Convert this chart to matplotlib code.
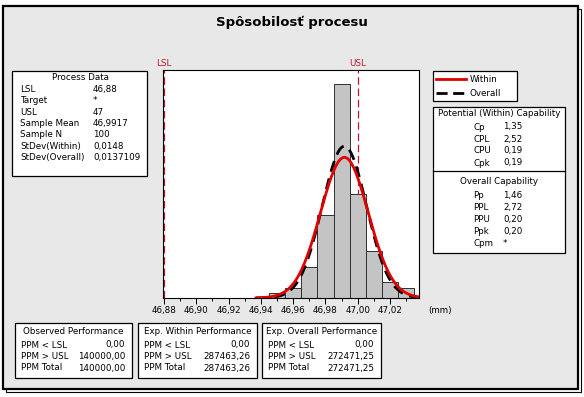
import matplotlib
matplotlib.use("Agg")
import matplotlib.pyplot as plt
from matplotlib.patches import Rectangle
from matplotlib.lines import Line2D
import numpy as np

W, H = 584, 397

# data
LSL = 46.88
USL = 47.0
MEAN = 46.9917
SD_WITHIN = 0.0148
SD_OVERALL = 0.0137109
N = 100
BIN_START = 46.945
BIN_WIDTH = 0.01
counts = [1, 2, 6, 16, 41, 20, 9, 3, 2]

process_labels = ["LSL", "Target", "USL", "Sample Mean", "Sample N", "StDev(Within)", "StDev(Overall)"]
process_values = ["46,88", "*", "47", "46,9917", "100", "0,0148", "0,0137109"]

within_labels = ["Cp", "CPL", "CPU", "Cpk"]
within_values = ["1,35", "2,52", "0,19", "0,19"]
overall_labels = ["Pp", "PPL", "PPU", "Ppk", "Cpm"]
overall_values = ["1,46", "2,72", "0,20", "0,20", "*"]

perf_titles = ["Observed Performance", "Exp. Within Performance", "Exp. Overall Performance"]
perf_labels = ["PPM < LSL", "PPM > USL", "PPM Total"]
perf_values = [["0,00", "140000,00", "140000,00"],
               ["0,00", "287463,26", "287463,26"],
               ["0,00", "272471,25", "272471,25"]]

xticks = [46.88, 46.90, 46.92, 46.94, 46.96, 46.98, 47.00, 47.02]

FS = 6.3
RED = "#E00000"
SPEC = "#C8102E"


def fx(x):
    return x / W


def fy(y):
    return 1 - y / H


def box(fig, x0, y0, x1, y1):
    fig.patches.append(Rectangle((fx(x0), fy(y1)), fx(x1 - x0), (y1 - y0) / H,
                                 transform=fig.transFigure, facecolor="white",
                                 edgecolor="black", lw=0.9, zorder=2))


def txt(fig, x, y, s, ha="left", **kw):
    fig.text(fx(x), fy(y), s, ha=ha, va="center", fontsize=FS, zorder=3, **kw)


def normal(x, mu, sd):
    return N * BIN_WIDTH * np.exp(-0.5 * ((x - mu) / sd) ** 2) / (sd * np.sqrt(2 * np.pi))


fig = plt.figure(figsize=(W / 100, H / 100), dpi=100)
fig.patch.set_facecolor("white")

# outer frame with shadow line
fig.patches.append(Rectangle((fx(6), fy(392)), fx(575), 383 / H, transform=fig.transFigure,
                             facecolor="none", edgecolor="black", lw=0.8, zorder=-2))
fig.patches.append(Rectangle((fx(3), fy(389)), fx(575), 383 / H, transform=fig.transFigure,
                             facecolor="#E8E8E8", edgecolor="black", lw=1.6, zorder=-1))

fig.text(0.5, fy(22), "Spôsobilosť procesu", ha="center", va="center",
         fontsize=9.5, fontweight="bold")

# histogram axes
ax = fig.add_axes([fx(163), fy(298), fx(419 - 163), (298 - 70) / H])
ax.set_zorder(1)
ax.set_facecolor("white")
edges = BIN_START + BIN_WIDTH * np.arange(len(counts) + 1)
ax.bar(edges[:-1], counts, width=BIN_WIDTH, align="edge", color="#C4C4C4",
       edgecolor="#303030", lw=0.7, zorder=2)

xs = np.linspace(46.937, 47.04, 300)
ax.plot(xs, normal(xs, MEAN, SD_OVERALL), color="black", lw=2, ls=(0, (4, 2.5)), zorder=3)
ax.plot(xs, normal(xs, MEAN, SD_WITHIN), color=RED, lw=2, zorder=4)

for v, name in [(LSL, "LSL"), (USL, "USL")]:
    ax.axvline(v, color=SPEC, lw=0.9, ls=(0, (6, 3)), zorder=1)
    ax.text(v, 1.01, name, transform=ax.get_xaxis_transform(), ha="center",
            va="bottom", color=SPEC, fontsize=FS, clip_on=False)

ax.set_xlim(46.8794, 47.0379)
ax.set_ylim(0, 43.7)
ax.set_yticks([])
ax.set_xticks(xticks)
ax.set_xticklabels([f"{t:.2f}".replace(".", ",") for t in xticks], fontsize=FS)
ax.set_xticks(np.arange(46.89, 47.035, 0.02), minor=True)
ax.tick_params(axis="x", which="major", length=4, width=0.7, pad=2)
ax.tick_params(axis="x", which="minor", length=2.5, width=0.7)
for sp in ax.spines.values():
    sp.set_linewidth(0.8)
fig.text(fx(428), fy(310), "(mm)", fontsize=FS, va="center")

# process data box
box(fig, 12, 71, 147, 176)
txt(fig, 80, 78, "Process Data", ha="center")
for i, (lab, val) in enumerate(zip(process_labels, process_values)):
    y = 89.5 + i * 11.3
    txt(fig, 20, y, lab)
    txt(fig, 93, y, val)

# legend box
box(fig, 433, 71, 517, 101)
fig.lines.append(Line2D([fx(436), fx(466)], [fy(79), fy(79)], transform=fig.transFigure,
                        color=RED, lw=2, zorder=3))
fig.lines.append(Line2D([fx(436), fx(466)], [fy(93), fy(93)], transform=fig.transFigure,
                        color="black", lw=2, ls=(0, (4, 2)), zorder=3))
txt(fig, 470, 79, "Within")
txt(fig, 470, 93, "Overall")

# capability box
box(fig, 433, 107, 565, 253)
fig.lines.append(Line2D([fx(433), fx(565)], [fy(171), fy(171)], transform=fig.transFigure,
                        color="black", lw=0.9, zorder=3))
txt(fig, 499, 114, "Potential (Within) Capability", ha="center")
for i, (lab, val) in enumerate(zip(within_labels, within_values)):
    y = 127 + i * 12
    txt(fig, 473, y, lab)
    txt(fig, 503, y, val)
txt(fig, 499, 181, "Overall Capability", ha="center")
for i, (lab, val) in enumerate(zip(overall_labels, overall_values)):
    y = 195 + i * 12.2
    txt(fig, 473, y, lab)
    txt(fig, 503, y, val)

# performance boxes
lefts = [15, 138, 262]
rights = [132, 257, 381]
for k in range(3):
    box(fig, lefts[k], 323, rights[k], 378)
    txt(fig, (lefts[k] + rights[k]) / 2, 332, perf_titles[k], ha="center")
    for i, lab in enumerate(perf_labels):
        y = 345 + i * 11.5
        txt(fig, lefts[k] + 6, y, lab)
        txt(fig, rights[k] - 7, y, perf_values[k][i], ha="right")

fig.savefig("out.png", dpi=100)
